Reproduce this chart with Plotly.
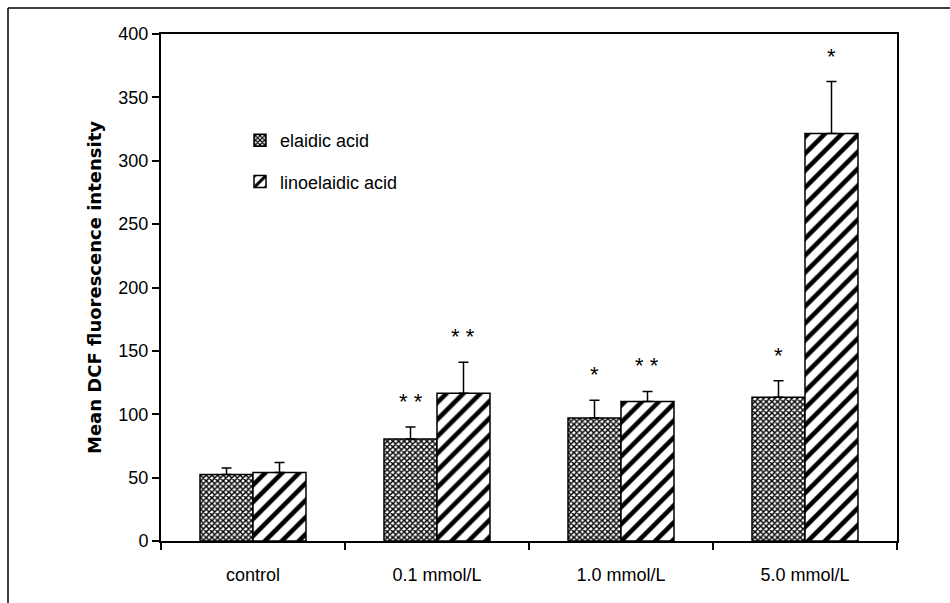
import plotly.graph_objects as go

categories = ["control", "0.1 mmol/L", "1.0 mmol/L", "5.0 mmol/L"]
elaidic = [52.5, 80.5, 97, 113.5]
elaidic_err = [5, 9.5, 14, 13]
linoelaidic = [54, 116.5, 110, 321.5]
linoelaidic_err = [8, 24.5, 8, 41]
elaidic_sig = ["", "* *", "*", "*"]
linoelaidic_sig = ["", "* *", "* *", "*"]
y_ticks = [0, 50, 100, 150, 200, 250, 300, 350, 400]

FONT = "Liberation Sans Narrow, Arial Narrow, Liberation Sans, Arial, sans-serif"

W, H = 950, 603
L, R, T, B = 161, 53, 34, 62
PW, PH = W - L - R, H - T - B

fig = go.Figure()
fig.add_trace(go.Bar(
    name="elaidic acid", x=categories, y=elaidic, legendgroup="a",
    marker=dict(color="white", line=dict(color="black", width=1.5),
                pattern=dict(shape="x", fgcolor="black", bgcolor="white", size=4,
                             solidity=0.6, fgopacity=1, fillmode="replace")),
    error_y=dict(type="data", symmetric=False, array=elaidic_err,
                 arrayminus=[0] * len(elaidic), color="black", thickness=1.5, width=5),
))
fig.add_trace(go.Bar(
    name="linoelaidic acid", x=categories, y=linoelaidic, legendgroup="b",
    marker=dict(color="white", line=dict(color="black", width=1.5),
                pattern=dict(shape="/", fgcolor="black", bgcolor="white", size=12,
                             solidity=0.38, fgopacity=1, fillmode="replace")),
    error_y=dict(type="data", symmetric=False, array=linoelaidic_err,
                 arrayminus=[0] * len(linoelaidic), color="black", thickness=1.5, width=5),
))

bargap = 0.424
bar_px = PW / len(categories) * (1 - bargap) / 2
annotations = []
for i, c in enumerate(categories):
    for vals, errs, sig, sgn in ((elaidic, elaidic_err, elaidic_sig, -1),
                                 (linoelaidic, linoelaidic_err, linoelaidic_sig, 1)):
        if sig[i]:
            annotations.append(dict(
                x=c, y=vals[i] + errs[i], xref="x", yref="y", text=sig[i],
                showarrow=False, xshift=sgn * bar_px / 2, yanchor="bottom", yshift=11,
                font=dict(family=FONT, size=22, color="black")))

shapes = [
    dict(type="line", xref="paper", yref="paper",
         x0=(8 - L) / PW, x1=(W - L) / PW, y0=(H - B - 8) / PH, y1=(H - B - 8) / PH,
         line=dict(color="black", width=1.5)),
    dict(type="line", xref="paper", yref="paper",
         x0=(8 - L) / PW, x1=(8 - L) / PW, y0=(H - B - 8) / PH, y1=-B / PH - 0.01,
         line=dict(color="black", width=1.5)),
]

fig.update_layout(
    width=W, height=H,
    margin=dict(l=L, r=R, t=T, b=B, autoexpand=False),
    paper_bgcolor="white", plot_bgcolor="white",
    barmode="group", bargap=bargap, bargroupgap=0,
    font=dict(family=FONT, size=18, color="black"),
    showlegend=True,
    legend=dict(x=(240 - L) / PW, y=(H - B - 122) / PH, xanchor="left", yanchor="top",
                bgcolor="rgba(0,0,0,0)", font=dict(family=FONT, size=18),
                traceorder="grouped", tracegroupgap=15, itemwidth=30),
    xaxis=dict(showline=True, linecolor="black", linewidth=2, mirror=True,
               ticks="outside", tickson="boundaries", ticklen=7, tickwidth=1.5,
               tickcolor="black", showgrid=False, ticklabelstandoff=16,
               tickfont=dict(family=FONT, size=18)),
    yaxis=dict(range=[0, 400], tickvals=y_ticks, showline=True, linecolor="black",
               linewidth=2, mirror=True, ticks="outside", ticklen=7, tickwidth=1.5,
               tickcolor="black", showgrid=False, zeroline=False,
               tickfont=dict(family=FONT, size=18),
               title=dict(text="<b>Mean DCF fluorescence intensity</b>",
                          font=dict(family="DejaVu Sans, sans-serif", size=18),
                          standoff=12)),
    annotations=annotations,
    shapes=shapes,
)

fig.write_html("out.html")
